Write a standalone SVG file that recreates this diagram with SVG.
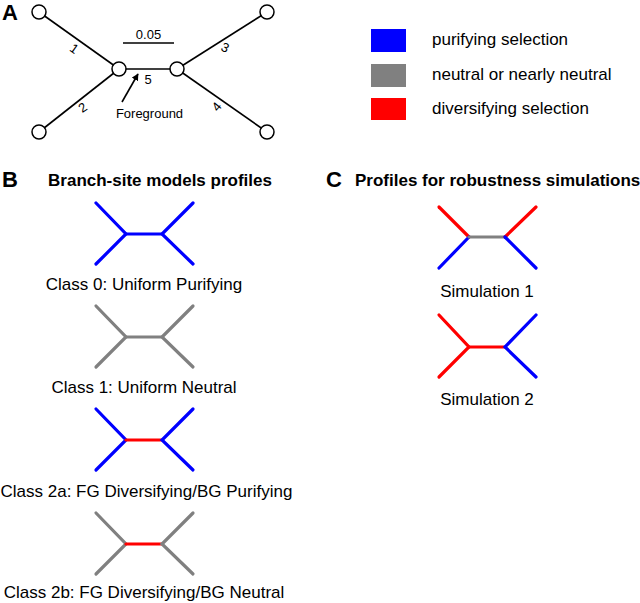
<svg xmlns="http://www.w3.org/2000/svg" width="640" height="603" viewBox="0 0 640 603">
<style>
text{font-family:"Liberation Sans",Arial,sans-serif;fill:#000}
.panel{font-size:22px;font-weight:bold}
.title{font-size:17px;font-weight:bold}
.lbl{font-size:17px}
.small{font-size:13px}
.edge{stroke:#000;stroke-width:1.6;fill:none}
.node{fill:#fff;stroke:#000;stroke-width:1.5}
.br{stroke-width:3.2;fill:none;stroke-linecap:round}
.b{stroke:#0000ff}
.g{stroke:#808080}
.r{stroke:#ff0000}
</style>
<defs>
<marker id="ah" viewBox="0 0 10 10" refX="9" refY="5" markerWidth="7" markerHeight="7" orient="auto" markerUnits="userSpaceOnUse">
<path d="M0,0 L10,5 L0,10 z" fill="#000"/>
</marker>
</defs>
<rect width="640" height="603" fill="#fff"/>

<!-- Panel A -->
<text class="panel" x="2" y="20">A</text>
<g id="connectors">
<line class="edge" x1="39" y1="12" x2="119" y2="69"/>
<line class="edge" x1="39" y1="132" x2="119" y2="69"/>
<line class="edge" x1="119" y1="69" x2="177" y2="69"/>
<line class="edge" x1="177" y1="69" x2="267" y2="12"/>
<line class="edge" x1="177" y1="69" x2="267" y2="132"/>
<line class="edge" x1="122" y1="102" x2="138" y2="74" marker-end="url(#ah)"/>
</g>
<g id="node-tl"><circle class="node" cx="39" cy="12" r="7"/></g>
<g id="node-bl"><circle class="node" cx="39" cy="132" r="7"/></g>
<g id="node-cl"><circle class="node" cx="119" cy="69" r="7"/></g>
<g id="node-cr"><circle class="node" cx="177" cy="69" r="7"/></g>
<g id="node-tr"><circle class="node" cx="267" cy="12" r="7"/></g>
<g id="node-br"><circle class="node" cx="267" cy="132" r="7"/></g>
<g id="scale">
<line x1="123" y1="43" x2="174" y2="43" stroke="#000" stroke-width="1.6"/>
<text class="small" x="148.5" y="39" text-anchor="middle">0.05</text>
</g>
<g id="branch-labels">
<text class="small" x="74" y="53" text-anchor="middle" transform="rotate(35 74 49)">1</text>
<text class="small" x="83" y="112" text-anchor="middle" transform="rotate(-35 83 108)">2</text>
<text class="small" x="225" y="52" text-anchor="middle" transform="rotate(25 225 48)">3</text>
<text class="small" x="217" y="111" text-anchor="middle" transform="rotate(-50 217 107)">4</text>
<text class="small" x="148" y="84" text-anchor="middle">5</text>
</g>
<text class="small" x="149.5" y="118" text-anchor="middle">Foreground</text>

<!-- Legend -->
<g id="legend">
<rect x="371" y="29" width="35" height="23" fill="#0000ff"/>
<text class="lbl" x="432" y="45">purifying selection</text>
<rect x="371" y="64" width="35" height="23" fill="#808080"/>
<text class="lbl" x="432" y="80">neutral or nearly neutral</text>
<rect x="371" y="98" width="35" height="22" fill="#ff0000"/>
<text class="lbl" x="432" y="114">diversifying selection</text>
</g>

<!-- Panel B -->
<text class="panel" x="2" y="187">B</text>
<text class="title" x="160" y="186" text-anchor="middle">Branch-site models profiles</text>

<g id="class0" transform="translate(144,234)">
<path class="br b" d="M-48,-31 L-18,0 L-48,30"/>
<path class="br b" d="M-18,0 L18,0"/>
<path class="br b" d="M49,-31 L18,0 L49,30"/>
<text class="lbl" x="0" y="56" text-anchor="middle">Class 0: Uniform Purifying</text>
</g>
<g id="class1" transform="translate(144,337)">
<path class="br g" d="M-48,-31 L-18,0 L-48,30"/>
<path class="br g" d="M-18,0 L18,0"/>
<path class="br g" d="M49,-31 L18,0 L49,30"/>
<text class="lbl" x="0" y="56" text-anchor="middle">Class 1: Uniform Neutral</text>
</g>
<g id="class2a" transform="translate(144,440)">
<path class="br b" d="M-48,-31 L-18,0 L-48,30"/>
<path class="br r" d="M-18,0 L18,0"/>
<path class="br b" d="M49,-31 L18,0 L49,30"/>
<text class="lbl" x="-143.5" y="57">Class 2a: FG Diversifying/BG Purifying</text>
</g>
<g id="class2b" transform="translate(144,544)">
<path class="br g" d="M-48,-31 L-18,0 L-48,30"/>
<path class="br r" d="M-18,0 L18,0"/>
<path class="br g" d="M49,-31 L18,0 L49,30"/>
<text class="lbl" x="0" y="54" text-anchor="middle">Class 2b: FG Diversifying/BG Neutral</text>
</g>

<!-- Panel C -->
<text class="panel" x="326" y="187">C</text>
<text class="title" x="355" y="186">Profiles for robustness simulations</text>

<g id="sim1" transform="translate(487,237)">
<path class="br r" d="M-48,-30 L-18,0"/>
<path class="br b" d="M-18,0 L-48,31"/>
<path class="br g" d="M-18,0 L18,0"/>
<path class="br r" d="M49,-30 L18,0"/>
<path class="br b" d="M18,0 L49,31"/>
<text class="lbl" x="0" y="60" text-anchor="middle">Simulation 1</text>
</g>
<g id="sim2" transform="translate(487,347)">
<path class="br r" d="M-48,-32 L-18,0 L-48,30"/>
<path class="br r" d="M-18,0 L18,0"/>
<path class="br b" d="M49,-32 L18,0 L49,30"/>
<text class="lbl" x="0" y="58" text-anchor="middle">Simulation 2</text>
</g>
</svg>
